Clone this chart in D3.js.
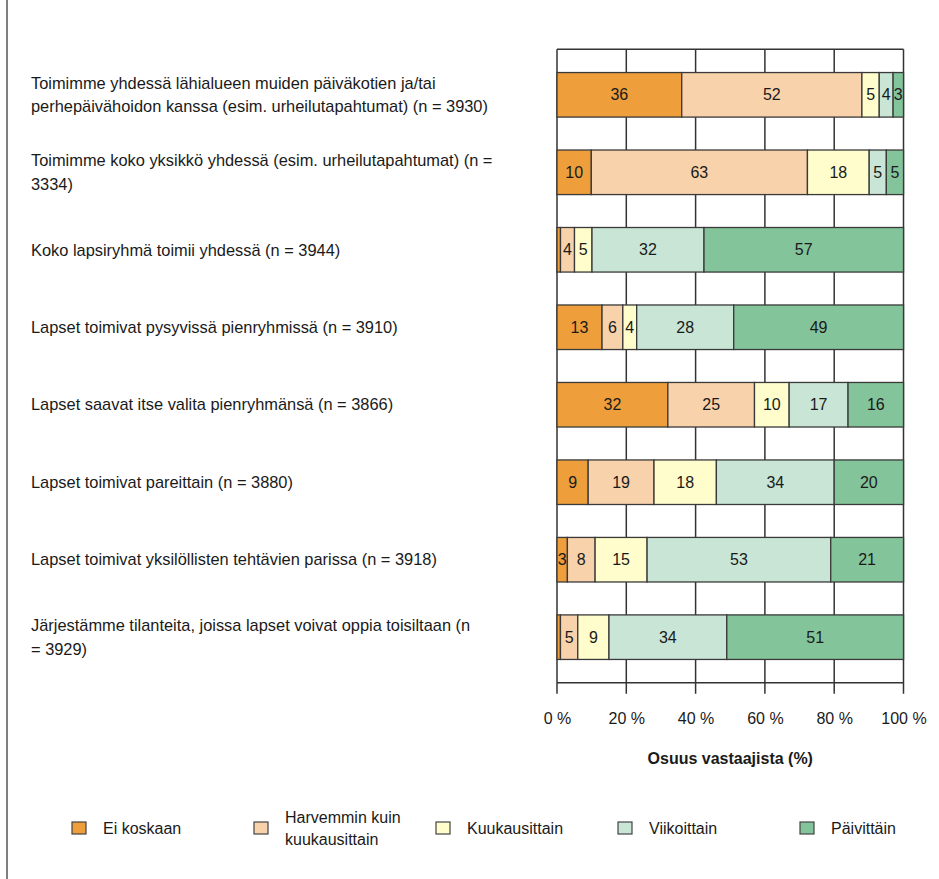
<!DOCTYPE html>
<html lang="fi">
<head>
<meta charset="UTF-8">
<title>Osuus vastaajista</title>
<script src="https://d3js.org/d3.v7.min.js"></script>
<style>
  body { margin: 0; background: #fff; }
  svg text { font-family: "Liberation Sans", Arial, sans-serif; fill: #1a1a1a; }
</style>
</head>
<body>
<svg id="chart" width="939" height="879"></svg>
<script>
const categories = [
  "Toimimme yhdessä lähialueen muiden päiväkotien ja/tai|perhepäivähoidon kanssa (esim. urheilutapahtumat) (n = 3930)",
  "Toimimme koko yksikkö yhdessä (esim. urheilutapahtumat) (n =|3334)",
  "Koko lapsiryhmä toimii yhdessä (n = 3944)",
  "Lapset toimivat pysyvissä pienryhmissä (n = 3910)",
  "Lapset saavat itse valita pienryhmänsä (n = 3866)",
  "Lapset toimivat pareittain (n = 3880)",
  "Lapset toimivat yksilöllisten tehtävien parissa (n = 3918)",
  "Järjestämme tilanteita, joissa lapset voivat oppia toisiltaan (n|= 3929)"
];
const series = ["Ei koskaan", "Harvemmin kuin|kuukausittain", "Kuukausittain", "Viikoittain", "Päivittäin"];
const eiKoskaan     = [36, 10, 1, 13, 32,  9,  3,  1];
const harvemmin     = [52, 63, 4,  6, 25, 19,  8,  5];
const kuukausittain = [ 5, 18, 5,  4, 10, 18, 15,  9];
const viikoittain   = [ 4,  5, 32, 28, 17, 34, 53, 34];
const paivittain    = [ 3,  5, 57, 49, 16, 20, 21, 51];
const colors = ["#ee9f3c", "#f8d2ab", "#fffdcb", "#c8e5d5", "#84c49a"];
const ticks = [0, 20, 40, 60, 80, 100];

const table = categories.map((c, i) => ({
  cat: c,
  s0: eiKoskaan[i], s1: harvemmin[i], s2: kuukausittain[i], s3: viikoittain[i], s4: paivittain[i]
}));
const keys = ["s0", "s1", "s2", "s3", "s4"];

const svg = d3.select("#chart");
const plotLeft = 557, plotRight = 903.5, plotTop = 49.3, plotBottom = 682.7;

// harmaa pystyviiva vasemmassa reunassa
svg.append("line")
  .attr("x1", 7).attr("x2", 7).attr("y1", 0).attr("y2", 879)
  .attr("stroke", "#555").attr("stroke-width", 1.5);

svg.append("clipPath").attr("id", "plotClip")
  .append("rect")
  .attr("x", plotLeft).attr("y", plotTop)
  .attr("width", plotRight - plotLeft).attr("height", plotBottom - plotTop);

const x = d3.scaleLinear().domain([0, 1]).range([plotLeft, plotRight]);
const y = d3.scaleBand().domain(categories).range([plotTop, plotBottom])
  .paddingInner(0.425).paddingOuter(0.3);

// ruudukko ja kehys
svg.append("g").selectAll("line")
  .data(ticks)
  .enter().append("line")
  .attr("x1", d => x(d / 100)).attr("x2", d => x(d / 100))
  .attr("y1", plotTop).attr("y2", plotBottom + 11)
  .attr("stroke", "#333").attr("stroke-width", 1.5);
svg.append("line")
  .attr("x1", plotLeft).attr("x2", plotRight).attr("y1", plotTop).attr("y2", plotTop)
  .attr("stroke", "#333").attr("stroke-width", 1.5);
svg.append("line")
  .attr("x1", plotLeft).attr("x2", plotRight).attr("y1", plotBottom).attr("y2", plotBottom)
  .attr("stroke", "#333").attr("stroke-width", 1.5);

const stacked = d3.stack().keys(keys).offset(d3.stackOffsetExpand)(table);

const layers = svg.append("g").selectAll("g")
  .data(stacked)
  .enter().append("g")
  .attr("fill", (d, i) => colors[i]);

layers.selectAll("rect")
  .data(d => d)
  .enter().append("rect")
  .attr("x", d => x(d[0]))
  .attr("y", d => y(d.data.cat))
  .attr("width", d => x(d[1]) - x(d[0]))
  .attr("height", y.bandwidth())
  .attr("stroke", "#3a3a3a")
  .attr("stroke-width", 1.3);

// arvot palkkien sisään
const labels = svg.append("g").attr("clip-path", "url(#plotClip)");
stacked.forEach(layer => {
  labels.append("g").selectAll("text")
    .data(layer.filter(d => d.data[layer.key] >= 2))
    .enter().append("text")
    .attr("x", d => (x(d[0]) + x(d[1])) / 2)
    .attr("y", d => y(d.data.cat) + y.bandwidth() / 2)
    .attr("dy", "0.35em")
    .attr("text-anchor", "middle")
    .style("font-size", "16px")
    .text(d => d.data[layer.key]);
});

// x-akseli
const xAxis = svg.append("g")
  .attr("transform", "translate(0," + plotBottom + ")")
  .call(d3.axisBottom(x).tickValues(ticks.map(t => t / 100))
    .tickFormat(d => Math.round(d * 100) + " %").tickSize(0).tickPadding(30));
xAxis.select(".domain").remove();
xAxis.selectAll("text").style("font-size", "16px").attr("fill", "#1a1a1a");

svg.append("text")
  .attr("x", (plotLeft + plotRight) / 2).attr("y", 758).attr("dy", "0.35em")
  .attr("text-anchor", "middle")
  .style("font-size", "16px").style("font-weight", "bold")
  .text("Osuus vastaajista (%)");

// kategoriat vasemmalle
categories.forEach(c => {
  const lines = c.split("|");
  const cy = y(c) + y.bandwidth() / 2;
  const t = svg.append("text")
    .attr("x", 31)
    .style("font-size", "16.4px");
  lines.forEach((l, j) => {
    t.append("tspan").attr("x", 31)
      .attr("y", cy - (lines.length - 1) * 23.3 / 2 + j * 23.3)
      .attr("dy", "0.35em")
      .text(l);
  });
});

// selite
const legend = svg.append("g").selectAll("g")
  .data(series)
  .enter().append("g")
  .attr("transform", (d, i) => "translate(" + (72 + i * 182) + ",828)");
legend.append("rect")
  .attr("x", 0).attr("y", -6).attr("width", 14).attr("height", 12)
  .attr("fill", (d, i) => colors[i])
  .attr("stroke", "#444").attr("stroke-width", 1.2);
legend.each(function (d) {
  const lines = d.split("|");
  const t = d3.select(this).append("text").style("font-size", "16px");
  lines.forEach((l, j) => {
    t.append("tspan").attr("x", 31)
      .attr("y", (j - (lines.length - 1) / 2) * 22)
      .attr("dy", "0.35em")
      .text(l);
  });
});
</script>
</body>
</html>
